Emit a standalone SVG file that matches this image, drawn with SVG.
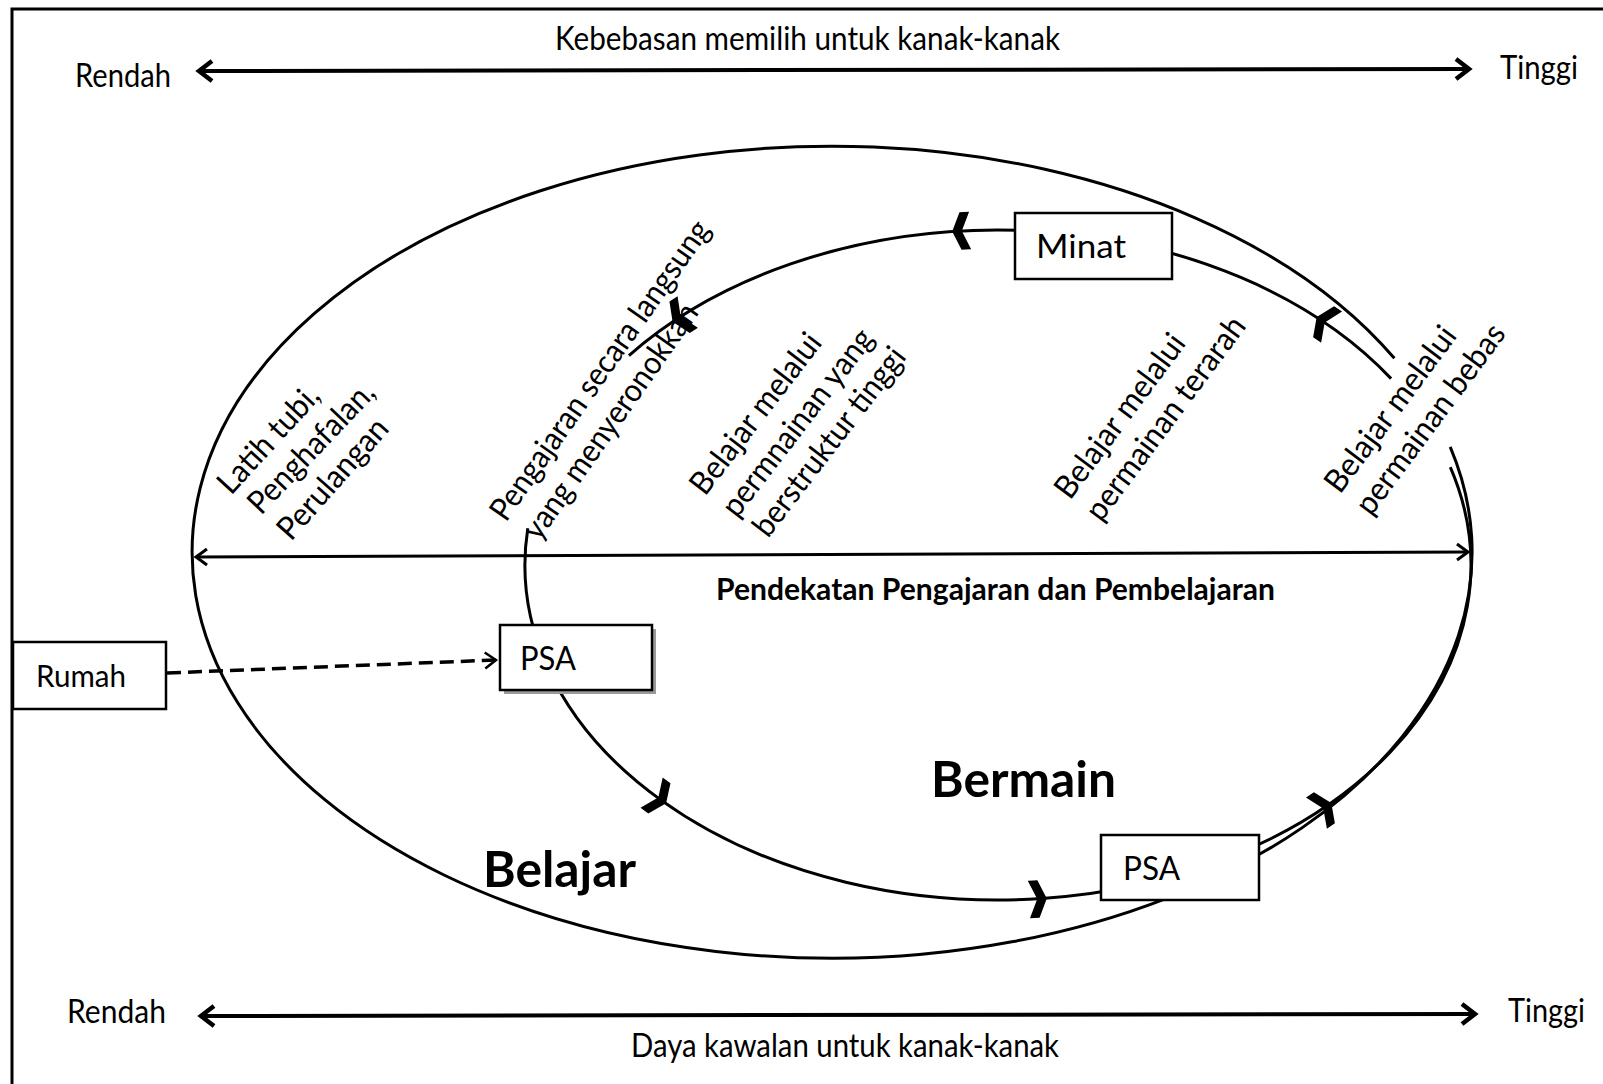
<svg xmlns="http://www.w3.org/2000/svg" width="1603" height="1084" viewBox="0 0 1603 1084">
<style>
text { font-family: Lato, "Open Sans", "DejaVu Sans", sans-serif; fill: #000; }
.t { font-size: 32px; }
.bold { font-weight: 700; }
.box { fill: #fff; stroke: #000; stroke-width: 2.5; }
.shadow { fill: #9a9a9a; stroke: none; }
.curve { fill: none; stroke: #000; stroke-width: 3; }
.chev { fill: #000; stroke: #000; stroke-width: 1.5; stroke-linejoin: miter; }
.axis { fill: none; stroke: #000; stroke-width: 4; }
.mid { fill: none; stroke: #000; stroke-width: 3; }
.dash { fill: none; stroke: #000; stroke-width: 3.5; stroke-dasharray: 14 7; }
.frame { fill: none; stroke: #000; stroke-width: 3; }
</style>
<defs>
  <marker id="headBig" markerUnits="userSpaceOnUse" orient="auto-start-reverse" refX="0" refY="0" markerWidth="30" markerHeight="30" viewBox="-20 -15 30 30" overflow="visible">
    <path d="M -13 -10 L 0 0 L -13 10" fill="none" stroke="#000" stroke-width="4.5"/>
  </marker>
  <marker id="headMid" markerUnits="userSpaceOnUse" orient="auto-start-reverse" refX="0" refY="0" markerWidth="30" markerHeight="30" viewBox="-20 -15 30 30" overflow="visible">
    <path d="M -11 -8 L 0 0 L -11 8" fill="none" stroke="#000" stroke-width="3"/>
  </marker>
  <marker id="headOpen" markerUnits="userSpaceOnUse" orient="auto" refX="0" refY="0" markerWidth="30" markerHeight="30" viewBox="-20 -15 30 30" overflow="visible">
    <path d="M -11 -8 L 0 0 L -11 8" fill="none" stroke="#000" stroke-width="2.5"/>
  </marker>
  <path id="chev" d="M -8 -18 L 0 -18 L 8 0 L 0 18 L -8 18 L 0 0 Z"/>
</defs>

<rect x="0" y="0" width="1603" height="1084" fill="#fff"/>
<path class="frame" d="M 12 1084 L 12 9 L 1603 9"/>

<g id="scale-top">
  <text class="t" x="555" y="50" textLength="505" lengthAdjust="spacingAndGlyphs">Kebebasan memilih untuk kanak-kanak</text>
  <text class="t" x="75" y="87" textLength="96" lengthAdjust="spacingAndGlyphs">Rendah</text>
  <text class="t" x="1500" y="79" textLength="78" lengthAdjust="spacingAndGlyphs">Tinggi</text>
</g>

<g id="scale-bottom">
  <text class="t" x="67" y="1023" textLength="99" lengthAdjust="spacingAndGlyphs">Rendah</text>
  <text class="t" x="1508" y="1022" textLength="77" lengthAdjust="spacingAndGlyphs">Tinggi</text>
  <text class="t" x="631" y="1057" textLength="428" lengthAdjust="spacingAndGlyphs">Daya kawalan untuk kanak-kanak</text>
</g>

<g id="label-latih">
  <text class="t" transform="translate(231,496) rotate(-47.5)" textLength="134" lengthAdjust="spacingAndGlyphs">Latih tubi,</text>
  <text class="t" transform="translate(261,516) rotate(-46.5)" textLength="168" lengthAdjust="spacingAndGlyphs">Penghafalan,</text>
  <text class="t" transform="translate(291,542) rotate(-48.5)" textLength="150" lengthAdjust="spacingAndGlyphs">Perulangan</text>
</g>
<g id="label-pengajaran">
  <text class="t" transform="translate(506,523) rotate(-55)" textLength="358" lengthAdjust="spacingAndGlyphs">Pengajaran secara langsung</text>
  <text class="t" transform="translate(539,542) rotate(-55)" textLength="280" lengthAdjust="spacingAndGlyphs">yang menyeronokkan</text>
</g>
<g id="label-berstruktur">
  <text class="t" transform="translate(705,497) rotate(-52.5)" textLength="194" lengthAdjust="spacingAndGlyphs">Belajar melalui</text>
  <text class="t" transform="translate(737,519) rotate(-52.5)" textLength="227" lengthAdjust="spacingAndGlyphs">permnainan yang</text>
  <text class="t" transform="translate(768,539) rotate(-52.5)" textLength="229" lengthAdjust="spacingAndGlyphs">berstruktur tinggi</text>
</g>
<g id="label-terarah">
  <text class="t" transform="translate(1070,501) rotate(-53.4)" textLength="196" lengthAdjust="spacingAndGlyphs">Belajar melalui</text>
  <text class="t" transform="translate(1101,523) rotate(-53.4)" textLength="245" lengthAdjust="spacingAndGlyphs">permainan terarah</text>
</g>
<g id="label-bebas">
  <text class="t" transform="translate(1340,495) rotate(-53.4)" textLength="198" lengthAdjust="spacingAndGlyphs">Belajar melalui</text>
  <text class="t" transform="translate(1371,517) rotate(-53.4)" textLength="228" lengthAdjust="spacingAndGlyphs">permainan bebas</text>
</g>

<g id="connectors">
  <line class="axis" x1="199" y1="71" x2="1469" y2="69" marker-start="url(#headBig)" marker-end="url(#headBig)"/>
  <line class="axis" x1="201" y1="1016" x2="1475" y2="1014" marker-start="url(#headBig)" marker-end="url(#headBig)"/>
  <path class="curve" d="M 1450.2 446.9 A 640 406 0 1 1 1394.4 358.3"/>
  <path class="curve" d="M 628.9 355.6 A 473 335 0 0 1 1391.1 378.6"/>
  <path class="curve" d="M 1450.3 467.1 A 473 335 0 1 1 527.8 528.2"/>
  <line class="mid" x1="196" y1="557" x2="1468" y2="552" marker-start="url(#headMid)" marker-end="url(#headMid)"/>
  <line class="dash" x1="167" y1="673" x2="496" y2="660" marker-end="url(#headOpen)"/>
  <use href="#chev" class="chev" transform="translate(961,231) rotate(176.8)"/>
  <use href="#chev" class="chev" transform="translate(680,317) rotate(147.3)"/>
  <use href="#chev" class="chev" transform="translate(1324,322) rotate(214)"/>
  <use href="#chev" class="chev" transform="translate(659,798) rotate(36.2)"/>
  <use href="#chev" class="chev" transform="translate(1038,899) rotate(-3.4)"/>
  <use href="#chev" class="chev" transform="translate(1324,808) rotate(-34)"/>
</g>

<g id="axis-label">
  <text class="bold" x="716" y="600" font-size="30" textLength="559" lengthAdjust="spacingAndGlyphs">Pendekatan Pengajaran dan Pembelajaran</text>
</g>
<g id="label-bermain">
  <text class="bold" x="931" y="797" font-size="50" textLength="185" lengthAdjust="spacingAndGlyphs">Bermain</text>
</g>
<g id="label-belajar">
  <text class="bold" x="483" y="887" font-size="50" textLength="153" lengthAdjust="spacingAndGlyphs">Belajar</text>
</g>

<g id="node-rumah">
  <rect class="box" x="13" y="642" width="153" height="67"/>
  <text x="36" y="687" font-size="31" textLength="90" lengthAdjust="spacingAndGlyphs">Rumah</text>
</g>
<g id="node-psa1">
  <rect class="shadow" x="504" y="629" width="152" height="65"/>
  <rect class="box" x="500" y="625" width="152" height="65"/>
  <text x="520" y="670" font-size="32" textLength="56" lengthAdjust="spacingAndGlyphs">PSA</text>
</g>
<g id="node-psa2">
  <rect class="box" x="1101" y="835" width="158" height="65"/>
  <text x="1123" y="880" font-size="32" textLength="57" lengthAdjust="spacingAndGlyphs">PSA</text>
</g>
<g id="node-minat">
  <rect class="box" x="1015" y="213" width="157" height="66"/>
  <text x="1036" y="258" font-size="33" textLength="90" lengthAdjust="spacingAndGlyphs">Minat</text>
</g>
</svg>
